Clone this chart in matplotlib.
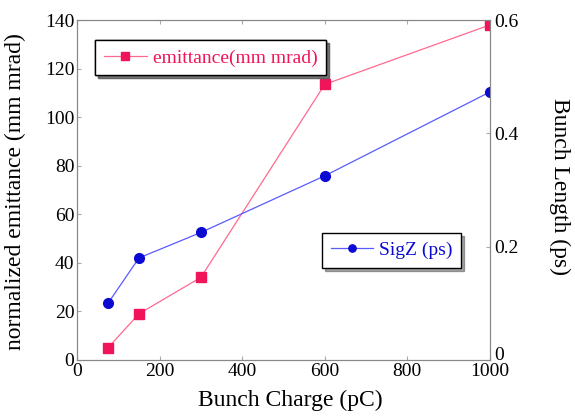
import matplotlib.pyplot as plt

charge = [75, 150, 300, 600, 1000]
emittance = [5, 19, 34, 113.5, 138]
sigz = [0.1, 0.18, 0.225, 0.325, 0.473]

plt.rcParams['font.family'] = ['Liberation Serif', 'DejaVu Serif']
pink = '#f0145a'
blue = '#0a0ad2'

fig = plt.figure(figsize=(5.75, 4.18), dpi=100)
ax = fig.add_axes([0.134, 0.139, 0.718, 0.813])
l1, = ax.plot(charge, emittance, color='#ff6a90', lw=0.9, marker='s', ms=7,
              mfc=pink, mec=pink, label='emittance(mm mrad)')
ax.set_xlim(0, 1000)
ax.set_ylim(0, 140)
ax.set_xticks(range(0, 1001, 200))
ax.set_yticks(range(0, 141, 20))
ax.set_xlabel('Bunch Charge (pC)', fontsize=17, va='center')
ax.set_ylabel('normalized emittance (mm mrad)', fontsize=17, va='center')
ax.xaxis.set_label_coords(0.516, -0.118)
ax.yaxis.set_label_coords(-0.148, 0.494)
ax.tick_params(direction='in', labelsize=14, color='#aaaaaa', length=3, pad=2)
ax.tick_params(axis='x', top=True)
for s in ax.spines.values():
    s.set_color('#888888')

ax2 = ax.twinx()
l2, = ax2.plot(charge, sigz, color='#5a5aff', lw=0.9, marker='o', ms=7,
               mfc=blue, mec=blue, label='SigZ (ps)')
ax2.set_ylim(0, 0.6)
ax2.set_yticks([0, 0.2, 0.4, 0.6])
ax2.set_yticklabels(['0', '0.2', '0.4', '0.6'])
ax2.get_yticklabels()[0].set_va('baseline')
ax2.set_ylabel('Bunch Length (ps)', fontsize=17, rotation=270, va='center')
ax2.yaxis.set_label_coords(1.168, 0.51)
ax2.tick_params(direction='in', labelsize=14, color='#aaaaaa', length=3, pad=3)
for s in ax2.spines.values():
    s.set_color('#888888')

leg1 = ax.legend(handles=[l1], loc='upper left', bbox_to_anchor=(0.044, 0.941),
                 borderaxespad=0, fancybox=False, shadow=True, fontsize=14,
                 handlelength=2.2, borderpad=0.45, handletextpad=0.3,
                 markerscale=0.75)
leg1.get_frame().set_edgecolor('black')
for t in leg1.get_texts():
    t.set_color(pink)
ax.add_artist(leg1)

leg2 = ax2.legend(handles=[l2], loc='upper left', bbox_to_anchor=(0.593, 0.374),
                  borderaxespad=0, fancybox=False, shadow=True, fontsize=14,
                  handlelength=2.2, borderpad=0.45, handletextpad=0.3,
                  markerscale=0.75)
leg2.get_frame().set_edgecolor('black')
for t in leg2.get_texts():
    t.set_color(blue)

plt.savefig('out.png')
